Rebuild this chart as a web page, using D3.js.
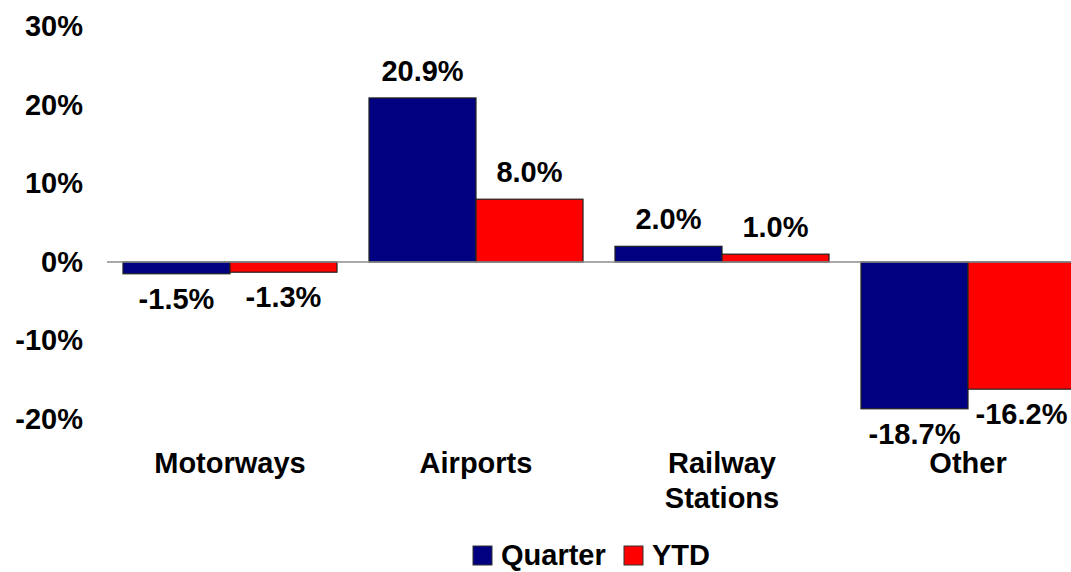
<!DOCTYPE html>
<html>
<head>
<meta charset="utf-8">
<script src="https://cdn.jsdelivr.net/npm/d3@7"></script>
<style>
  html, body { margin: 0; padding: 0; background: #fff; }
  svg { display: block; font-family: "Liberation Sans", Arial, sans-serif; font-weight: bold; }
</style>
</head>
<body>
<svg id="chart" width="1071" height="572"></svg>
<script>
// Growth by location type, quarter vs year to date (%)
const categories = [["Motorways"], ["Airports"], ["Railway", "Stations"], ["Other"]];
const seriesNames = ["Quarter", "YTD"];
const quarterValues = [-1.5, 20.9, 2.0, -18.7];
const ytdValues = [-1.3, 8.0, 1.0, -16.2];
const tickValues = [-20, -10, 0, 10, 20, 30];

const seriesColors = ["#000080", "#FF0000"];
const seriesValues = [quarterValues, ytdValues];

const svg = d3.select("#chart");
const fontSize = 29;

const x = d3.scaleBand()
  .domain(d3.range(categories.length))
  .range([107, 1091])
  .paddingInner(0)
  .paddingOuter(0);

const xInner = d3.scaleBand()
  .domain(d3.range(seriesNames.length))
  .range([x.bandwidth() * 0.065, x.bandwidth() * 0.935])
  .padding(0);

const y = d3.scaleLinear()
  .domain([-20, 30])
  .range([419, 26.5]);

// Y axis: labels only
const yAxis = svg.append("g")
  .attr("transform", "translate(83,0)")
  .call(d3.axisLeft(y).tickValues(tickValues).tickSize(0).tickPadding(0).tickFormat(d => d + "%"));
yAxis.select(".domain").remove();
yAxis.selectAll("text")
  .attr("font-size", fontSize)
  .attr("font-family", "'Liberation Sans', Arial, sans-serif")
  .attr("font-weight", "bold")
  .attr("fill", "#000");

// Bars
const rows = [];
categories.forEach((c, i) => {
  seriesValues.forEach((vals, s) => rows.push({ i, s, v: vals[i] }));
});

svg.append("g").selectAll("rect")
  .data(rows)
  .join("rect")
  .attr("x", d => x(d.i) + xInner(d.s))
  .attr("width", xInner.bandwidth())
  .attr("y", d => Math.min(y(d.v), y(0)))
  .attr("height", d => Math.abs(y(d.v) - y(0)))
  .attr("fill", d => seriesColors[d.s])
  .attr("stroke", "#222")
  .attr("stroke-width", 1.2);

// Zero line
svg.append("line")
  .attr("x1", 107).attr("x2", 1071)
  .attr("y1", y(0)).attr("y2", y(0))
  .attr("stroke", "#8c8c8c")
  .attr("stroke-width", 1.5);

// Value labels
svg.append("g").selectAll("text")
  .data(rows)
  .join("text")
  .attr("x", d => x(d.i) + xInner(d.s) + xInner.bandwidth() / 2)
  .attr("y", d => d.v >= 0 ? y(d.v) - 17 : y(d.v) + 35)
  .attr("text-anchor", "middle")
  .attr("font-size", fontSize)
  .attr("fill", "#000")
  .text(d => d.v.toFixed(1) + "%");

// Category labels
const catG = svg.append("g").selectAll("text")
  .data(categories)
  .join("text")
  .attr("x", (d, i) => x(i) + x.bandwidth() / 2)
  .attr("y", 473)
  .attr("text-anchor", "middle")
  .attr("font-size", fontSize)
  .attr("fill", "#000");
catG.selectAll("tspan")
  .data(d => d)
  .join("tspan")
  .attr("x", function() { return d3.select(this.parentNode).attr("x"); })
  .attr("dy", (d, k) => k === 0 ? 0 : 35)
  .text(d => d);

// Legend
const legendItems = [
  { name: seriesNames[0], color: seriesColors[0], x: 473 },
  { name: seriesNames[1], color: seriesColors[1], x: 624 }
];
const lg = svg.append("g").selectAll("g")
  .data(legendItems)
  .join("g")
  .attr("transform", d => `translate(${d.x},546)`);
lg.append("rect")
  .attr("width", 19).attr("height", 19)
  .attr("fill", d => d.color)
  .attr("stroke", "#333")
  .attr("stroke-width", 1);
lg.append("text")
  .attr("x", 28)
  .attr("y", 19)
  .attr("font-size", fontSize)
  .attr("fill", "#000")
  .text(d => d.name);
</script>
</body>
</html>
